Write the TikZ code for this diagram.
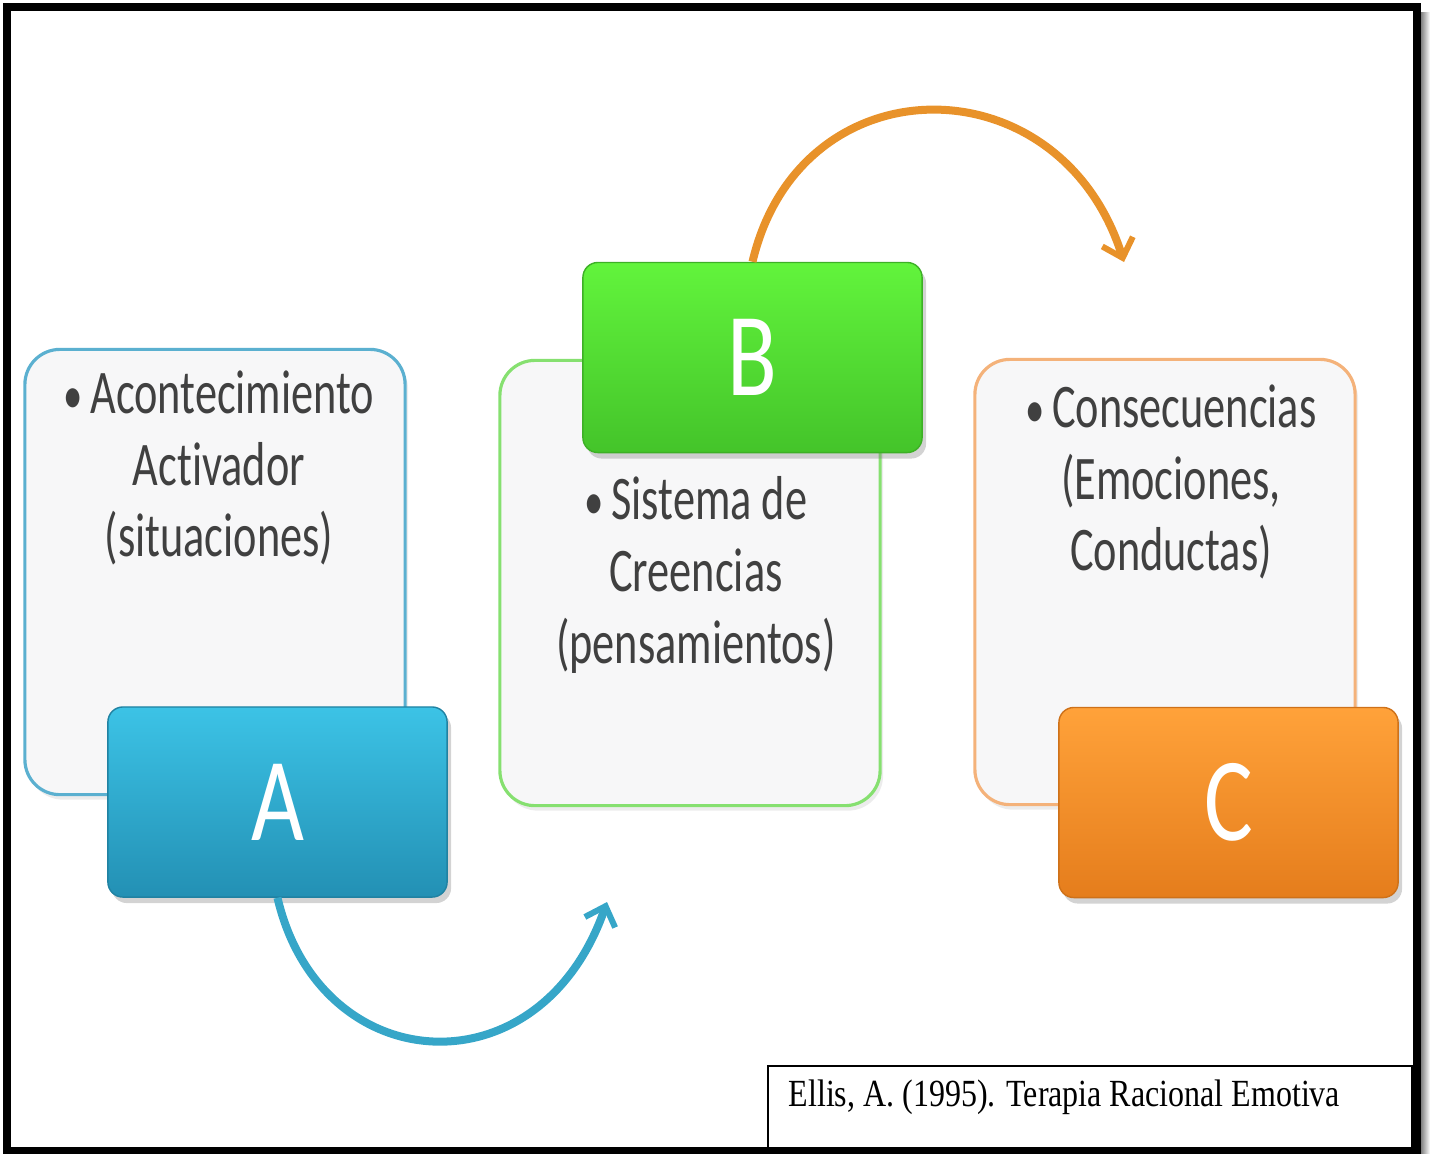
\documentclass[tikz,border=0pt]{standalone}
\usepackage{fontspec}
\usepackage{graphicx}
\setmainfont{Carlito}[Ligatures=NoCommon]
\newfontfamily\citefont{Liberation Serif}
\usetikzlibrary{arrows.meta,shadows}

\definecolor{aline}{HTML}{5BB0D0}
\definecolor{atop}{HTML}{3CC3E6}
\definecolor{abot}{HTML}{2390B4}
\definecolor{bline}{HTML}{86E070}
\definecolor{btop}{HTML}{62F43C}
\definecolor{bbot}{HTML}{44C42A}
\definecolor{cline}{HTML}{F4B27A}
\definecolor{ctop}{HTML}{FFA23A}
\definecolor{cbot}{HTML}{E57D1C}
\definecolor{aarrow}{HTML}{36A6C8}
\definecolor{carrow}{HTML}{E8922A}
\definecolor{textgray}{HTML}{404040}
\definecolor{panelfill}{HTML}{F7F7F8}

\newcommand{\dotmark}{{\fontsize{11}{11}\selectfont\textbullet}\,}

\tikzset{
  panel/.style={draw=#1, line width=0.9pt, fill=panelfill, rounded corners=0.35cm,
    minimum width=3.8cm, minimum height=4.45cm, inner sep=0pt,
    drop shadow={opacity=0.15, shadow xshift=0.03cm, shadow yshift=-0.05cm}},
  letterbox/.style 2 args={top color=#1, bottom color=#2, draw=#2!90!black, line width=0.4pt,
    rounded corners=0.15cm, minimum width=3.39cm, minimum height=1.9cm, inner sep=0pt,
    text=white, font=\fontsize{26}{26}\selectfont,
    drop shadow={opacity=0.35, shadow xshift=0.04cm, shadow yshift=-0.06cm}},
  paneltext/.style={align=center, text=textgray, inner sep=0pt,
    font=\fontsize{12.6}{14.6}\selectfont, yscale=1.4},
  loop/.style={line width=0.08cm, draw=#1, -{Straight Barb[length=0.17cm, width=0.32cm, line width=0.06cm]}}
}

\begin{document}
\begin{tikzpicture}[x=0.01cm, y=-0.01cm]
  \useasboundingbox (0,0) rectangle (1430,1153);

  % frame
  \shade[left color=black!55, right color=white] (1420,12) rectangle (1430,1153);
  \draw[line width=0.08cm] (7,6.5) -- (1416.5,6.5) -- (1416.5,1151) -- (7,1151) -- cycle;

  % A
  \node[panel=aline] (apanel) at (215,572) {};
  \node[paneltext] (atext) at (219,468) {\dotmark Acontecimiento\\Activador\\(situaciones)};
  \node[letterbox={atop}{abot}] (abox) at (277.5,802) {\scalebox{1}[1.3]{A}};

  % B
  \node[panel=bline] (bpanel) at (690,583) {};
  \node[paneltext] (btext) at (696,575) {\dotmark Sistema de\\Creencias\\(pensamientos)};
  \node[letterbox={btop}{bbot}] (bbox) at (752.5,357.5) {\scalebox{1}[1.3]{B}};

  % C
  \node[panel=cline] (cpanel) at (1165,582) {};
  \node[paneltext] (ctext) at (1171,482) {\dotmark Consecuencias\\(Emociones,\\Conductas)};
  \node[letterbox={ctop}{cbot}] (cbox) at (1228.5,802.5) {\scalebox{1}[1.3]{C}};

  % arrows
  \coordinate (aend) at (607,902);
  \coordinate (bend) at (1124,262);
  \draw[loop=aarrow] (abox.south) .. controls (320,1080) and (540,1095) .. (aend);
  \draw[loop=carrow] (bbox.north) .. controls (800,60) and (1060,60) .. (bend);

  % source
  \node[draw, line width=0.6pt, minimum width=6.44cm, minimum height=0.82cm, inner sep=0pt]
    (source) at (1090,1107) {};
  \node[anchor=west, inner sep=0pt, font=\citefont\fontsize{9.1}{10}\selectfont, yscale=1.2]
    (sourcetext) at (788,1097) {Ellis, A. (1995). Terapia Racional Emotiva};
\end{tikzpicture}
\end{document}
